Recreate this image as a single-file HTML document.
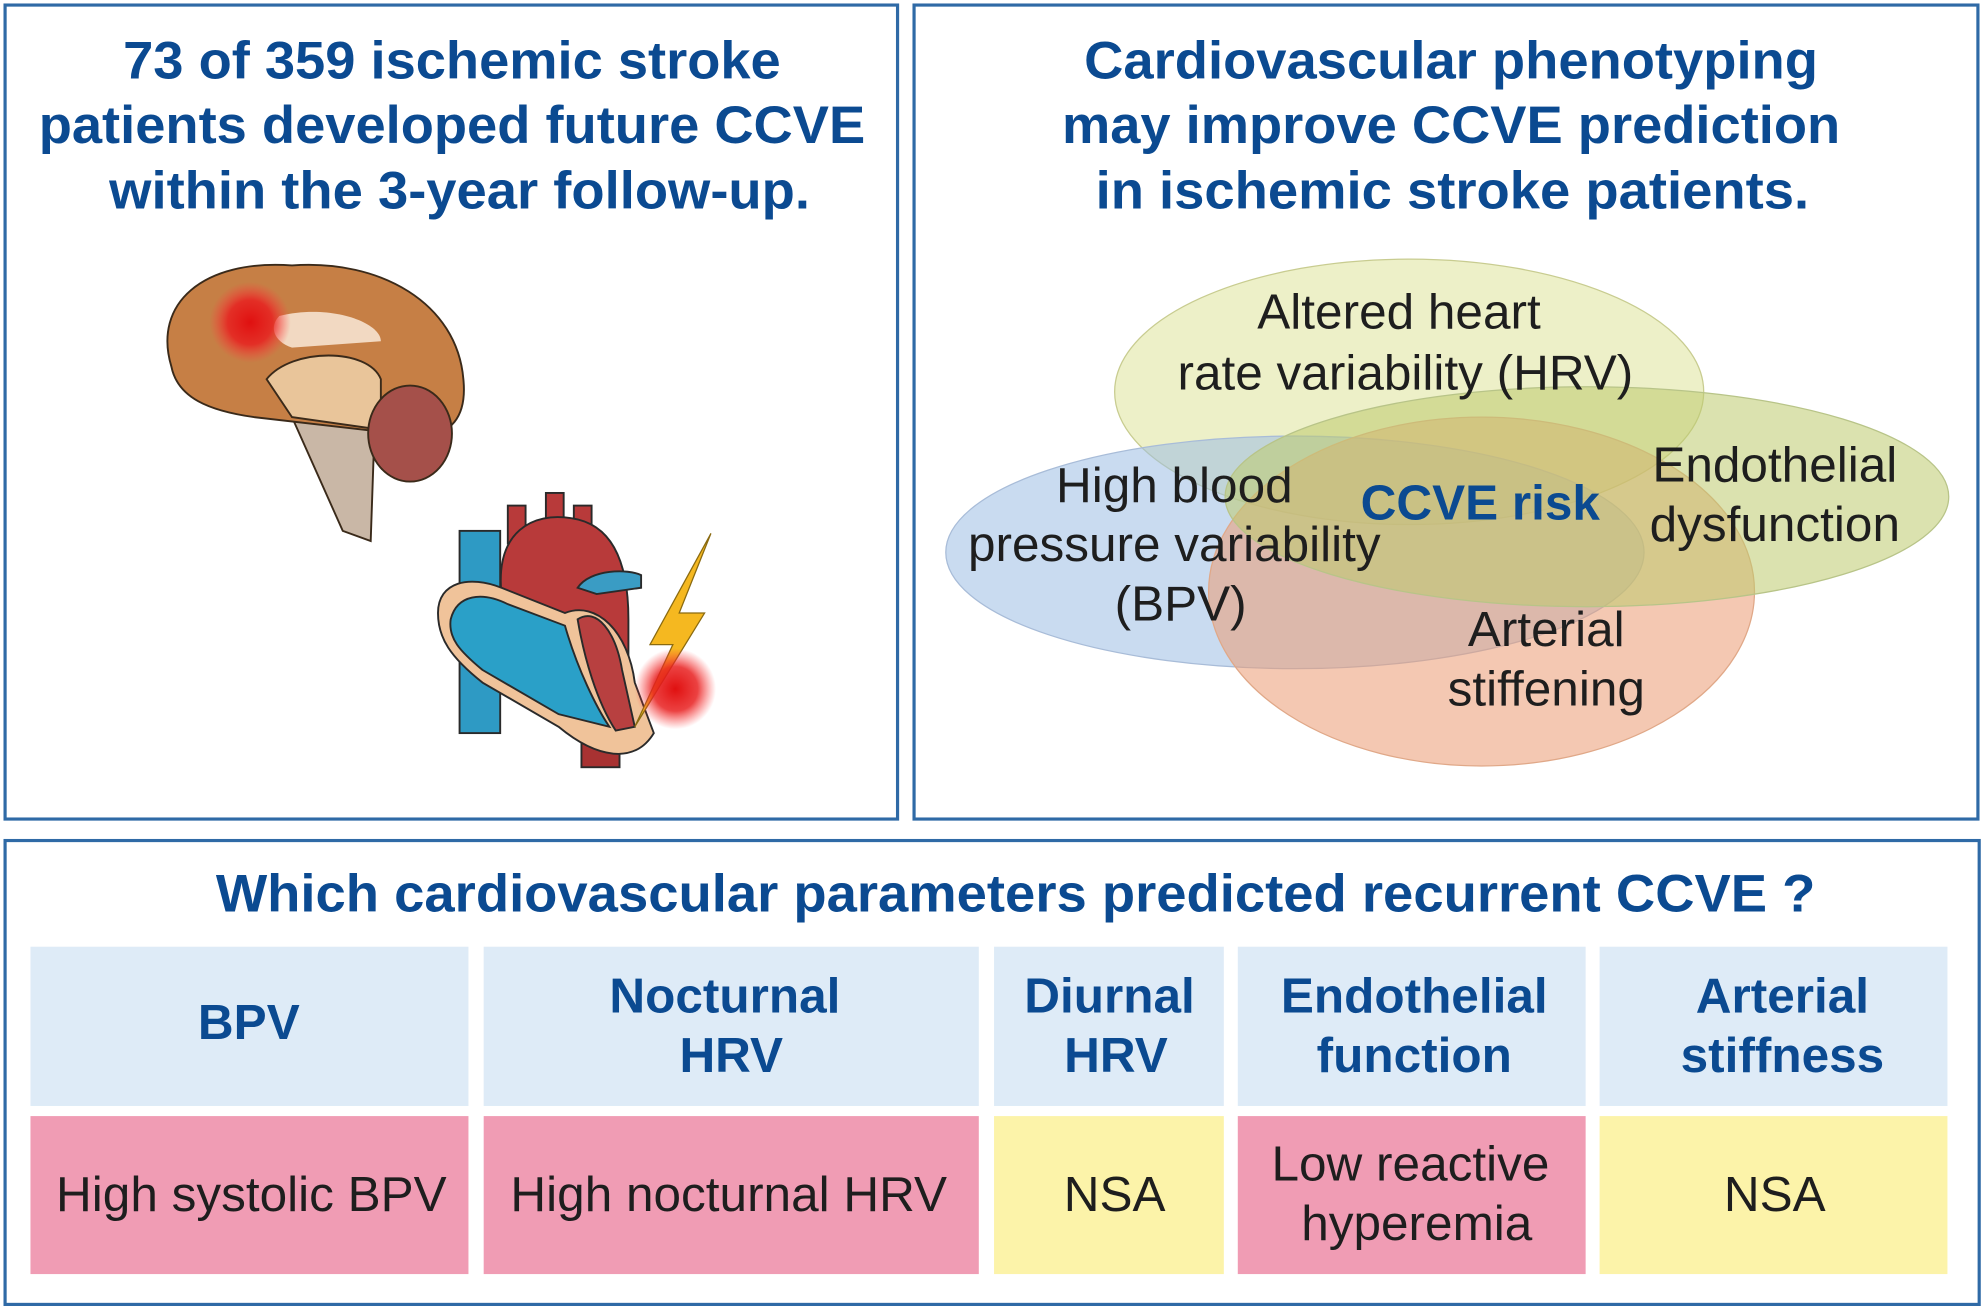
<!DOCTYPE html>
<html><head><meta charset="utf-8"><style>
html,body{margin:0;padding:0;background:#fff;}
svg{display:block;}
.t{font-family:"Liberation Sans",sans-serif;font-weight:bold;fill:#0b4a91;text-anchor:middle;}
.l{font-family:"Liberation Sans",sans-serif;fill:#1e1e1e;text-anchor:middle;font-size:39px;}
</style></head><body>
<svg width="1983" height="1312" viewBox="0 0 1562 1038" preserveAspectRatio="none" xmlns="http://www.w3.org/2000/svg">
<defs>
<radialGradient id="glow"><stop offset="0" stop-color="#e01010"/><stop offset="0.55" stop-color="#e82020" stop-opacity="0.85"/><stop offset="1" stop-color="#ff4040" stop-opacity="0"/></radialGradient>
</defs>
<rect width="1562" height="1038" fill="#fff"/>
<rect x="4" y="4" width="703" height="644" fill="none" stroke="#2f6aa6" stroke-width="2.5"/>
<rect x="720" y="4" width="838" height="644" fill="none" stroke="#2f6aa6" stroke-width="2.5"/>
<rect x="4" y="665" width="1555" height="367" fill="none" stroke="#2f6aa6" stroke-width="2.5"/>

<g class="t" font-size="42">
<text x="356" y="62" textLength="518" lengthAdjust="spacingAndGlyphs">73 of 359 ischemic stroke</text>
<text x="356" y="113" textLength="651" lengthAdjust="spacingAndGlyphs">patients developed future CCVE</text>
<text x="362" y="165" textLength="552" lengthAdjust="spacingAndGlyphs">within the 3-year follow-up.</text>
<text x="1143" y="62" textLength="578" lengthAdjust="spacingAndGlyphs">Cardiovascular phenotyping</text>
<text x="1143" y="113" textLength="613" lengthAdjust="spacingAndGlyphs">may improve CCVE prediction</text>
<text x="1144" y="165" textLength="562" lengthAdjust="spacingAndGlyphs">in ischemic stroke patients.</text>
<text x="800" y="721" textLength="1260" lengthAdjust="spacingAndGlyphs">Which cardiovascular parameters predicted recurrent CCVE ?</text>
</g>

<!-- brain -->
<g stroke="#3a2a1a" stroke-width="1.5">
<path d="M230 330 L270 420 L292 428 L295 340 Z" fill="#c9b7a6"/>
<path d="M135 290 C120 240 160 205 230 210 C300 205 360 240 365 300 C368 330 355 345 330 345 L200 330 C165 325 140 315 135 290 Z" fill="#c67f45"/>
<path d="M220 250 C260 240 300 255 300 270 L230 275 C215 270 212 258 220 250Z" fill="#f2d9c2" stroke="none"/>
<path d="M210 300 C230 275 290 275 300 300 L300 340 L230 330 Z" fill="#e9c59a"/>
<ellipse cx="323" cy="343" rx="33" ry="38" fill="#a5504a"/>
</g>
<circle cx="197" cy="255" r="32" fill="url(#glow)"/>

<!-- heart -->
<g stroke="#2a2a2a" stroke-width="1.5">
<rect x="458" y="535" width="30" height="72" fill="#a83232"/>
<rect x="362" y="420" width="32" height="160" fill="#2e9ac4"/>
<rect x="400" y="400" width="14" height="30" fill="#b83a3a"/>
<rect x="430" y="390" width="14" height="30" fill="#b83a3a"/>
<rect x="452" y="400" width="14" height="30" fill="#b83a3a"/>
<path d="M395 470 C390 420 420 405 450 410 C485 415 495 450 495 490 L495 560 L400 520 Z" fill="#b83a3a"/>
<path d="M345 485 C345 460 370 455 395 465 L445 485 C470 475 495 500 500 540 L515 580 C500 605 470 600 440 575 L380 540 C355 520 345 505 345 485Z" fill="#f0c39a"/>
<path d="M355 490 C360 470 380 468 400 478 L445 495 C455 530 470 560 480 575 L440 565 L380 530 C362 515 353 505 355 490Z" fill="#2aa0c8"/>
<path d="M455 490 C470 480 485 500 490 530 L500 575 L485 578 C470 555 460 520 455 490Z" fill="#b84040"/>
<path d="M455 465 C465 450 495 450 505 455 L505 465 L470 470 Z" fill="#3a9cc4"/>
</g>
<path d="M560 422 L512 510 L530 510 L500 575 L555 485 L535 485 Z" fill="#f5b820" stroke="#8a6a10" stroke-width="1"/>
<circle cx="532" cy="545" r="32" fill="url(#glow)"/>

<!-- venn -->
<ellipse cx="1110" cy="310" rx="232" ry="105" fill="#dfe49a" fill-opacity="0.55" stroke="#c8cc90" stroke-width="1"/>
<ellipse cx="1020" cy="437" rx="275" ry="92" fill="#9cbde3" fill-opacity="0.55" stroke="#a8bcd8" stroke-width="1"/>
<ellipse cx="1167" cy="468" rx="215" ry="138" fill="#eb9a72" fill-opacity="0.55" stroke="#e0a888" stroke-width="1"/>
<ellipse cx="1250" cy="393" rx="285" ry="87" fill="#bdcb6e" fill-opacity="0.55" stroke="#b8c488" stroke-width="1"/>
<g class="l">
<text x="1102" y="260">Altered heart</text>
<text x="1107" y="308">rate variability (HRV)</text>
<text x="925" y="397">High blood</text>
<text x="925" y="444">pressure variability</text>
<text x="930" y="491">(BPV)</text>
<text x="1398" y="381">Endothelial</text>
<text x="1398" y="428">dysfunction</text>
<text x="1218" y="511">Arterial</text>
<text x="1218" y="558">stiffening</text>
</g>
<text class="t" x="1166" y="411" font-size="39">CCVE risk</text>

<!-- table -->
<g fill="#deebf7">
<rect x="24" y="749" width="345" height="126"/><rect x="381" y="749" width="390" height="126"/><rect x="783" y="749" width="181" height="126"/><rect x="975" y="749" width="274" height="126"/><rect x="1260" y="749" width="274" height="126"/>
</g>
<rect x="24" y="883" width="345" height="125" fill="#f09cb4"/>
<rect x="381" y="883" width="390" height="125" fill="#f09cb4"/>
<rect x="783" y="883" width="181" height="125" fill="#fcf3a9"/>
<rect x="975" y="883" width="274" height="125" fill="#f09cb4"/>
<rect x="1260" y="883" width="274" height="125" fill="#fcf3a9"/>
<g class="t" font-size="39">
<text x="196" y="822">BPV</text>
<text x="571" y="801">Nocturnal</text><text x="576" y="848">HRV</text>
<text x="874" y="801">Diurnal</text><text x="879" y="848">HRV</text>
<text x="1114" y="801">Endothelial</text><text x="1114" y="848">function</text>
<text x="1404" y="801">Arterial</text><text x="1404" y="848">stiffness</text>
</g>
<g class="l">
<text x="198" y="958">High systolic BPV</text>
<text x="574" y="958">High nocturnal HRV</text>
<text x="878" y="958">NSA</text>
<text x="1111" y="934">Low reactive</text>
<text x="1116" y="981">hyperemia</text>
<text x="1398" y="958">NSA</text>
</g>
</svg>
</body></html>
